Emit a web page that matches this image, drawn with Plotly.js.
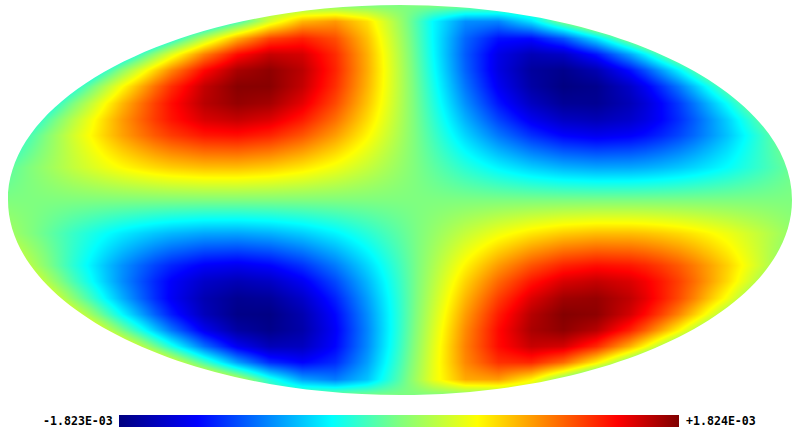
<!DOCTYPE html>
<html><head><meta charset="utf-8">
<script src="https://cdn.plot.ly/plotly-3.0.1.min.js"></script>
<style>html,body{margin:0;padding:0;background:#fff}</style></head>
<body><div id="chart" style="width:800px;height:440px"></div>
<script>
var mapX = [-1,-0.9167,-0.8333,-0.7917,-0.75,-0.7083,-0.6667,-0.625,-0.5833,-0.5,-0.4167,-0.3333,-0.25,-0.1667,-0.0833,0,0.0833,0.1667,0.25,0.3333,0.4167,0.5,0.5833,0.625,0.6667,0.7083,0.75,0.7917,0.8333,0.9167,1];
var mapY = [-1,-0.9167,-0.8333,-0.75,-0.6667,-0.5833,-0.5,-0.4167,-0.3333,-0.1667,0,0.1667,0.3333,0.4167,0.5,0.5833,0.6667,0.75,0.8333,0.9167,1];
var rowS6 = [0,0,0,0,0,0,0,0,0,0,0,0,0,0,0,0,0,0,0,0,0,0,0,0,0,0,0,0,0,0,0];
var rowS55 = [-0.877,-0.780,-0.360,-0.079,0.209,0.476,0.692,0.834,0.888,0.716,0.249,-0.322,-0.760,-0.883,-0.640,-0.133,0.430,0.814,0.862,0.553,0.015,-0.529,-0.854,-0.887,-0.824,-0.676,-0.455,-0.186,0.104,0.620,0.879];
var rowS5 = [0.570,1.045,1.290,1.307,1.251,1.125,0.937,0.696,0.416,-0.196,-0.764,-1.165,-1.310,-1.166,-0.765,-0.196,0.417,0.937,1.251,1.290,1.045,0.570,-0.031,-0.338,-0.625,-0.877,-1.082,-1.225,-1.300,-1.232,-0.892];
var rowS45 = [1.584,1.577,1.326,1.121,0.870,0.587,0.280,-0.037,-0.353,-0.931,-1.367,-1.591,-1.568,-1.303,-0.837,-0.241,0.392,0.965,1.388,1.597,1.559,1.279,0.803,0.512,0.201,-0.117,-0.431,-0.728,-0.996,-1.409,-1.602];
var rowS4 = [1.670,1.359,0.883,0.600,0.299,-0.011,-0.321,-0.621,-0.903,-1.374,-1.677,-1.776,-1.657,-1.337,-0.853,-0.265,0.355,0.932,1.395,1.688,1.775,1.645,1.314,1.085,0.824,0.536,0.232,-0.080,-0.388,-0.960,-1.415];
var rowS35 = [1.397,0.956,0.417,0.128,-0.165,-0.454,-0.730,-0.988,-1.220,-1.586,-1.786,-1.803,-1.635,-1.298,-0.827,-0.272,0.312,0.863,1.326,1.653,1.808,1.777,1.564,1.395,1.191,0.954,0.693,0.414,0.125,-0.457,-0.992];
var rowS3 = [1.044,0.576,0.055,-0.210,-0.471,-0.716,-0.953,-1.165,-1.349,-1.624,-1.751,-1.719,-1.531,-1.204,-0.768,-0.263,0.267,0.772,1.207,1.533,1.720,1.751,1.622,1.502,1.346,1.162,0.951,0.713,0.467,-0.059,-0.580];
var rowS25 = [0.719,0.282,-0.179,-0.406,-0.625,-0.830,-1.019,-1.186,-1.330,-1.531,-1.606,-1.548,-1.363,-1.066,-0.681,-0.240,0.221,0.664,1.052,1.353,1.543,1.606,1.537,1.454,1.341,1.198,1.034,0.847,0.642,0.198,-0.263];
var rowS2 = [0.461,0.087,-0.293,-0.476,-0.652,-0.813,-0.959,-1.087,-1.193,-1.337,-1.377,-1.312,-1.147,-0.894,-0.572,-0.206,0.176,0.543,0.870,1.129,1.303,1.376,1.344,1.289,1.209,1.106,0.980,0.838,0.678,0.323,-0.056];
var rowS1 = [0.145,-0.053,-0.248,-0.340,-0.426,-0.504,-0.573,-0.632,-0.681,-0.740,-0.748,-0.704,-0.610,-0.473,-0.303,-0.112,0.087,0.279,0.453,0.594,0.694,0.745,0.744,0.724,0.691,0.646,0.590,0.524,0.447,0.272,0.079];
var row0 = [0,0,0,0,0,0,0,0,0,0,0,0,0,0,0,0,0,0,0,0,0,0,0,0,0,0,0,0,0,0,0];
var rowN1 = [-0.123,0.076,0.269,0.360,0.444,0.520,0.587,0.644,0.690,0.744,0.746,0.696,0.596,0.455,0.283,0.090,-0.109,-0.300,-0.470,-0.608,-0.703,-0.748,-0.741,-0.718,-0.682,-0.634,-0.575,-0.507,-0.429,-0.251,-0.057];
var rowN2 = [-0.421,-0.046,0.333,0.515,0.687,0.846,0.988,1.112,1.213,1.346,1.375,1.299,1.123,0.861,0.534,0.165,-0.216,-0.581,-0.902,-1.153,-1.316,-1.378,-1.334,-1.273,-1.188,-1.080,-0.952,-0.804,-0.642,-0.283,0.098];
var rowN25 = [-0.676,-0.234,0.227,0.453,0.667,0.871,1.056,1.219,1.357,1.545,1.606,1.535,1.337,1.029,0.637,0.192,-0.269,-0.707,-1.088,-1.378,-1.556,-1.605,-1.523,-1.432,-1.314,-1.166,-0.997,-0.806,-0.598,-0.150,0.310];
var rowN3 = [-1.002,-0.525,-0.002,0.262,0.522,0.768,0.997,1.203,1.383,1.644,1.755,1.707,1.504,1.165,0.721,0.210,-0.319,-0.819,-1.245,-1.558,-1.730,-1.745,-1.602,-1.475,-1.312,-1.122,-0.905,-0.667,-0.416,0.112,0.630];
var rowN35 = [-1.361,-0.910,-0.364,-0.073,0.219,0.507,0.779,1.033,1.261,1.611,1.796,1.795,1.610,1.259,0.779,0.218,-0.365,-0.911,-1.363,-1.674,-1.813,-1.766,-1.537,-1.359,-1.148,-0.907,-0.642,-0.361,-0.070,0.509,1.037];
var rowN4 = [-1.650,-1.324,-0.836,-0.550,-0.247,0.065,0.373,0.670,0.948,1.406,1.694,1.774,1.638,1.301,0.806,0.213,-0.407,-0.977,-1.427,-1.704,-1.772,-1.625,-1.277,-1.043,-0.776,-0.485,-0.179,0.133,0.440,1.005,1.450];
var rowN45 = [-1.592,-1.566,-1.298,-1.086,-0.829,-0.542,-0.233,0.085,0.400,0.970,1.392,1.598,1.556,1.274,0.795,0.193,-0.439,-1.003,-1.412,-1.603,-1.545,-1.250,-0.759,-0.467,-0.153,0.165,0.477,0.771,1.032,1.431,1.606];
var rowN5 = [-0.605,-1.068,-1.297,-1.304,-1.239,-1.105,-0.909,-0.663,-0.379,0.234,0.796,1.183,1.309,1.147,0.733,0.157,-0.454,-0.964,-1.263,-1.283,-1.021,-0.531,0.070,0.375,0.659,0.906,1.102,1.238,1.304,1.216,0.863];
var rowN55 = [0.881,0.767,0.335,0.053,-0.235,-0.498,-0.708,-0.843,-0.888,-0.700,-0.222,0.347,0.773,0.879,0.621,0.106,-0.453,-0.824,-0.855,-0.531,0.012,0.550,0.861,0.885,0.815,0.659,0.432,0.159,-0.130,-0.638,-0.882];
var rowN6 = [0,0,0,0,0,0,0,0,0,0,0,0,0,0,0,0,0,0,0,0,0,0,0,0,0,0,0,0,0,0,0];
var zLow = -1.823, zHigh = 1.824;
var lowLabel = "-1.823E-03", highLabel = "+1.824E-03";
var jet = [[0,"#00007f"],[0.14,"#0000ff"],[0.38,"#00ffff"],[0.5,"#7fff7f"],[0.64,"#ffff00"],[0.89,"#ff0000"],[1,"#7f0000"]];

var k = 0.5523;
var mask = "M-1.1,-1.1 L1.1,-1.1 L1.1,1.1 L-1.1,1.1 Z " +
  "M-1,0 C-1," + k + " -" + k + ",1 0,1 C" + k + ",1 1," + k + " 1,0 C1,-" + k + " " + k + ",-1 0,-1 C-" + k + ",-1 -1,-" + k + " -1,0 Z";

var fontSpec = {family:"'DejaVu Sans Mono', monospace", size:11.6, color:"#000", weight:700};
Plotly.newPlot("chart", [{
  type:"heatmap", x:mapX, y:mapY,
  z:[rowS6,rowS55,rowS5,rowS45,rowS4,rowS35,rowS3,rowS25,rowS2,rowS1,row0,rowN1,rowN2,rowN25,rowN3,rowN35,rowN4,rowN45,rowN5,rowN55,rowN6],
  zmin:zLow, zmax:zHigh, zsmooth:"best", colorscale:jet,
  colorbar:{orientation:"h", lenmode:"pixels", len:560, thicknessmode:"pixels", thickness:12,
    x:(119-8)/784, xanchor:"left", y:-20/390, yanchor:"top", xpad:0, ypad:0,
    outlinewidth:0, borderwidth:0, ticks:"", showticklabels:false}
}], {
  width:800, height:440, margin:{l:8,r:8,t:5,b:45}, paper_bgcolor:"#fff", plot_bgcolor:"#fff",
  xaxis:{range:[-1,1], visible:false, fixedrange:true},
  yaxis:{range:[-1,1], visible:false, fixedrange:true},
  shapes:[{type:"path", path:mask, fillcolor:"#fff", fillrule:"evenodd", line:{width:0}, layer:"above"}],
  annotations:[
    {xref:"paper", yref:"paper", x:(115-8)/784, y:-26/390, xanchor:"right", yanchor:"middle", text:lowLabel, showarrow:false, font:fontSpec},
    {xref:"paper", yref:"paper", x:(684-8)/784, y:-26/390, xanchor:"left", yanchor:"middle", text:highLabel, showarrow:false, font:fontSpec}
  ]
}, {displayModeBar:false});
</script></body></html>
